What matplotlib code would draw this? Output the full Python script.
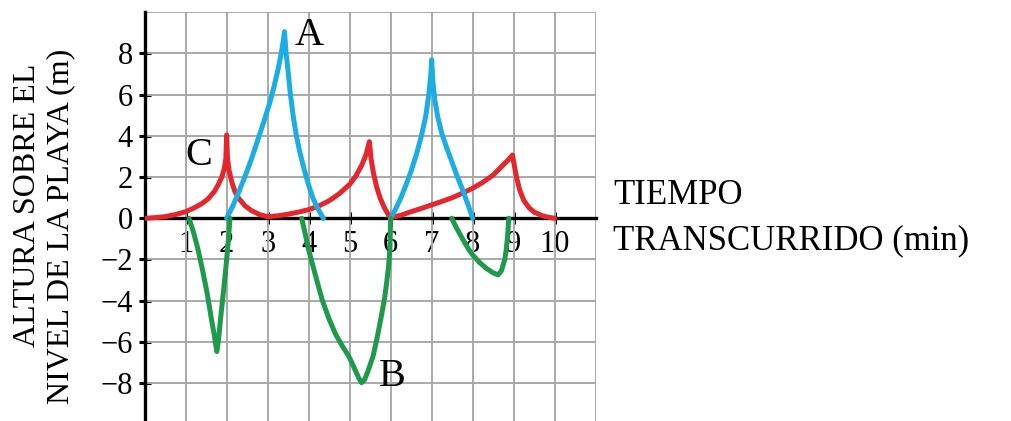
import numpy as np
from matplotlib import pyplot as plt

# height above beach level (m) vs elapsed time (min), one list of pieces per wave
wave_a = [
    ([2.0, 2.15, 2.3, 2.45, 2.6, 2.75, 2.9, 3.05, 3.15, 3.25, 3.33, 3.38, 3.41,
      3.45, 3.5, 3.55, 3.62, 3.7, 3.79, 3.9, 4.0, 4.1, 4.2, 4.3, 4.36],
     [0.0, 0.6, 1.3, 2.05, 2.85, 3.75, 4.65, 5.6, 6.35, 7.2, 8.0, 8.6, 9.06,
      8.0, 7.1, 6.1, 5.0, 4.0, 3.16, 2.3, 1.6, 1.0, 0.56, 0.2, 0.0]),
    ([6.0, 6.12, 6.25, 6.37, 6.5, 6.62, 6.75, 6.85, 6.93, 6.98, 7.0,
      7.03, 7.08, 7.15, 7.25, 7.37, 7.5, 7.62, 7.75, 7.87, 8.0],
     [0.0, 0.45, 1.0, 1.6, 2.3, 3.05, 4.0, 4.9, 6.0, 7.0, 7.7,
      6.6, 5.7, 4.9, 4.1, 3.4, 2.7, 2.05, 1.4, 0.75, 0.0]),
]
wave_b = [
    ([1.08, 1.18, 1.3, 1.42, 1.53, 1.62, 1.7, 1.76, 1.8, 1.86, 1.93, 1.99, 2.04, 2.08],
     [0.0, -0.6, -1.5, -2.6, -3.7, -4.8, -5.7, -6.47, -5.9, -4.7, -3.4, -2.2, -1.1, 0.0]),
    ([3.83, 3.92, 4.0, 4.17, 4.33, 4.5, 4.65, 4.82, 4.98, 5.12, 5.22, 5.29,
      5.36, 5.45, 5.57, 5.67, 5.77, 5.85, 5.9, 5.95, 5.98, 6.0],
     [0.0, -0.8, -1.54, -2.8, -3.97, -4.9, -5.6, -6.2, -6.7, -7.3, -7.75, -7.98,
      -7.85, -7.4, -6.7, -5.8, -4.78, -3.9, -3.16, -2.3, -1.54, 0.0]),
    ([7.49, 7.6, 7.77, 7.9, 8.0, 8.17, 8.34, 8.5, 8.62, 8.7, 8.78, 8.82, 8.85, 8.88],
     [0.0, -0.45, -1.06, -1.5, -1.78, -2.15, -2.44, -2.65, -2.75, -2.55, -2.02, -1.5, -0.9, 0.0]),
]
wave_c = [
    ([0.0, 0.25, 0.5, 0.75, 1.0, 1.2, 1.4, 1.55, 1.7, 1.8, 1.88, 1.94, 1.98, 2.0,
      2.02, 2.06, 2.12, 2.2, 2.3, 2.45, 2.6, 2.8, 3.0],
     [0.0, 0.03, 0.08, 0.18, 0.32, 0.5, 0.72, 0.95, 1.3, 1.65, 2.0, 2.4, 2.9, 4.05,
      2.9, 2.3, 1.8, 1.3, 0.95, 0.6, 0.38, 0.18, 0.08]),
    ([3.0, 3.25, 3.5, 3.75, 4.0, 4.25, 4.5, 4.75, 5.0, 5.15, 5.3, 5.4, 5.48,
      5.52, 5.58, 5.66, 5.75, 5.85, 5.95, 6.0],
     [0.08, 0.12, 0.2, 0.3, 0.42, 0.6, 0.85, 1.2, 1.65, 2.05, 2.6, 3.1, 3.72,
      2.9, 2.2, 1.5, 0.95, 0.5, 0.15, 0.02]),
    ([6.0, 6.25, 6.5, 6.75, 7.0, 7.25, 7.5, 7.75, 8.0, 8.25, 8.5, 8.7, 8.85, 8.97,
      9.02, 9.08, 9.15, 9.25, 9.38, 9.5, 9.7, 9.85, 10.0],
     [0.02, 0.15, 0.32, 0.48, 0.65, 0.82, 1.0, 1.22, 1.46, 1.75, 2.1, 2.5, 2.8, 3.07,
      2.5, 1.9, 1.35, 0.85, 0.5, 0.3, 0.12, 0.05, 0.0]),
]

x_ticks = [1, 2, 3, 4, 5, 6, 7, 8, 9, 10]
y_ticks = [-8, -6, -4, -2, 0, 2, 4, 6, 8]

plt.rcParams['font.family'] = ['Liberation Serif', 'DejaVu Serif']

fig = plt.figure(figsize=(10.11, 4.21), dpi=100)
ax = fig.add_axes([0.1431, -0.0078, 0.4461, 0.9786])
ax.set_xlim(0, 11)
ax.set_ylim(-10, 10)

ax.set_xticks(x_ticks)
ax.set_xticklabels([str(v) for v in x_ticks])
ax.set_yticks(y_ticks)
ax.set_yticklabels([str(v).replace('-', '\u2212') for v in y_ticks])
ax.tick_params(axis='both', which='major', direction='inout', length=9,
               width=2.2, color='black', labelsize=22)
ax.tick_params(axis='x', pad=4)
ax.tick_params(axis='y', pad=4)

# grid on every minute and every 2 m (minor ticks, kept even where they hit a major)
ax.xaxis.remove_overlapping_locs = False
ax.yaxis.remove_overlapping_locs = False
ax.set_xticks(np.arange(1, 12), minor=True)
ax.set_yticks(np.arange(-10, 11, 2), minor=True)
ax.tick_params(which='minor', length=0)
ax.grid(False, which='major')
ax.grid(True, which='minor', color='#a9a9a9', linewidth=1.4)
ax.set_axisbelow(True)

for side in ['top', 'right']:
    ax.spines[side].set_visible(False)
ax.spines['bottom'].set_position(('data', 0))
ax.spines['bottom'].set_linewidth(2.4)
ax.spines['left'].set_linewidth(2.4)

styles = dict(linewidth=3.6, solid_capstyle='round', solid_joinstyle='round')
for xs, ys in wave_c:
    ax.plot(xs, ys, color='#e5262d', zorder=3, **styles)
for xs, ys in wave_a:
    ax.plot(xs, ys, color='#1aaee5', zorder=4, **styles)
for xs, ys in wave_b:
    ax.plot(xs, ys, color='#1e9b4a', zorder=4, **styles)

ax.text(4.0, 8.85, 'A', fontsize=29, ha='center', va='center')
ax.text(6.03, -7.7, 'B', fontsize=29, ha='center', va='center')
ax.text(1.33, 3.07, 'C', fontsize=29, ha='center', va='center')

# axis titles
fig.text(613 / 1011, 1 - 196 / 421, 'TIEMPO', fontsize=25, ha='left', va='center')
fig.text(613 / 1011, 1 - 241 / 421, 'TRANSCURRIDO (min)', fontsize=25,
         ha='left', va='center')
fig.text(28 / 1011, 1 - 205 / 421, 'ALTURA SOBRE EL', fontsize=23,
         rotation=90, ha='center', va='center')
fig.text(61 / 1011, 1 - 226 / 421, 'NIVEL DE LA PLAYA (m)', fontsize=23,
         rotation=90, ha='center', va='center')

fig.savefig('out.png', dpi=100)
